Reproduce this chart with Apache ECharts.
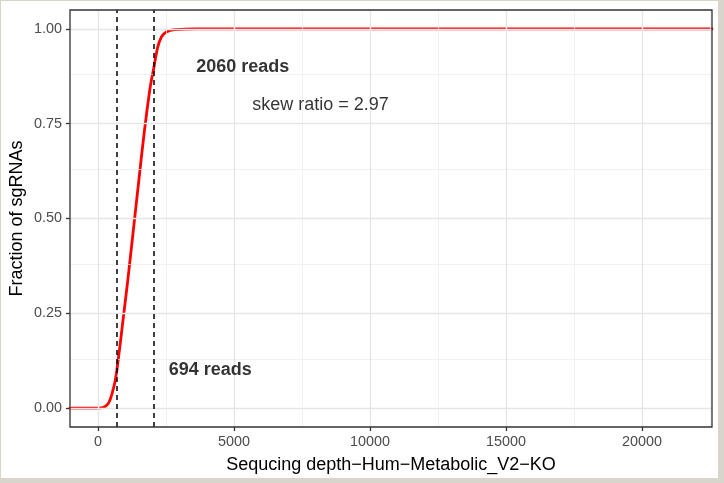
<!DOCTYPE html>
<html>
<head>
<meta charset="utf-8">
<script src="https://cdn.jsdelivr.net/npm/echarts@6/dist/echarts.min.js"></script>
<style>
  html, body { margin: 0; padding: 0; background: #d8d5cc; }
  #paper { position: absolute; left: 1px; top: 1px; width: 717px; height: 477px; background: #ffffff; }
  #main { position: absolute; left: 0; top: 0; width: 724px; height: 483px; }
</style>
</head>
<body>
<div id="paper"></div>
<div id="main"></div>
<script>
// ECDF of read counts (sequencing depth) -> fraction of sgRNAs
const depthReads  = [-1030, 60, 130, 195, 280, 380, 440, 500, 560, 625, 694, 800, 900, 1100, 1300, 1500, 1600, 1700, 1800, 1900, 1960, 2060, 2120, 2180, 2250, 2330, 2420, 2510, 2650, 2820, 3200, 3600, 22575];
const cumFraction = [0, 0, 0.0005, 0.002, 0.005, 0.012, 0.021, 0.034, 0.05, 0.069, 0.1, 0.16, 0.22, 0.34, 0.47, 0.60, 0.665, 0.727, 0.785, 0.838, 0.864, 0.90, 0.926, 0.948, 0.965, 0.979, 0.987, 0.992, 0.996, 0.998, 0.9995, 1, 1];

const xTicks = [0, 5000, 10000, 15000, 20000];
const xMinor = [2500, 7500, 12500, 17500, 22500];
const yTicks = [0, 0.25, 0.5, 0.75, 1];
const yMinor = [0.125, 0.375, 0.625, 0.875];

const cutoffReads = [694, 2060];
const annoX = [4130, 5320, 8180];
const annoY = [0.1, 0.9, 0.8];
const annoText = ['694 reads', '2060 reads', 'skew ratio = 2.97'];
const annoBold = [true, true, false];

const xTitle = 'Sequcing depth\u2212Hum\u2212Metabolic_V2\u2212KO';
const yTitle = 'Fraction of sgRNAs';

const FONT = '"Liberation Sans", Arial, Helvetica, sans-serif';

const chart = echarts.init(document.getElementById('main'), null, { renderer: 'canvas' });

const gridLines = [];
xMinor.forEach(v => gridLines.push({ xAxis: v, lineStyle: { color: '#ebebeb', width: 0.7, type: 'solid' } }));
yMinor.forEach(v => gridLines.push({ yAxis: v, lineStyle: { color: '#ebebeb', width: 0.7, type: 'solid' } }));
xTicks.forEach(v => gridLines.push({ xAxis: v, lineStyle: { color: '#e6e6e6', width: 1.4, type: 'solid' } }));
yTicks.forEach(v => gridLines.push({ yAxis: v, lineStyle: { color: '#e6e6e6', width: 1.4, type: 'solid' } }));

const curveData = depthReads.map((x, i) => [x, cumFraction[i]]);

chart.setOption({
  animation: false,
  backgroundColor: 'transparent',
  textStyle: { fontFamily: FONT },
  grid: {
    left: 70, top: 10, right: 12, bottom: 56,
    outerBoundsMode: 'none', containLabel: false,
    show: true, borderColor: '#333333', borderWidth: 1.3, backgroundColor: 'transparent', z: 10
  },
  xAxis: {
    type: 'value', min: -1030, max: 22575,
    name: xTitle, nameLocation: 'middle', nameGap: 29, nameMoveOverlap: false,
    nameTextStyle: { color: '#000000', fontSize: 18, fontFamily: FONT },
    axisLine: { show: false, onZero: false },
    axisTick: { show: true, inside: false, length: 4, customValues: xTicks, lineStyle: { color: '#333333', width: 1.3 } },
    axisLabel: { customValues: xTicks, margin: 8, color: '#4d4d4d', fontSize: 14.4, fontFamily: FONT,
                 formatter: v => String(v) },
    splitLine: { show: false }
  },
  yAxis: {
    type: 'value', min: -0.05, max: 1.05,
    name: yTitle, nameLocation: 'middle', nameGap: 44, nameRotate: 90, nameMoveOverlap: false,
    nameTextStyle: { color: '#000000', fontSize: 18, fontFamily: FONT },
    axisLine: { show: false, onZero: false },
    axisTick: { show: true, inside: false, length: 4, customValues: yTicks, lineStyle: { color: '#333333', width: 1.3 } },
    axisLabel: { customValues: yTicks, margin: 8, color: '#4d4d4d', fontSize: 14.4, fontFamily: FONT,
                 formatter: v => v.toFixed(2) },
    splitLine: { show: false }
  },
  series: [
    {
      type: 'line', z: 1, silent: true, symbol: 'none',
      data: [[depthReads[0], cumFraction[0]]],
      lineStyle: { opacity: 0 },
      markLine: { silent: true, symbol: ['none', 'none'], label: { show: false }, animation: false,
                  emphasis: { disabled: true }, data: gridLines }
    },
    {
      type: 'line', z: 3, silent: true, symbol: 'none', smooth: false,
      data: curveData,
      lineStyle: { color: '#ff0000', width: 2.8, join: 'round', cap: 'round' }
    },
    {
      type: 'line', z: 4, silent: true, symbol: 'none',
      data: [[depthReads[0], cumFraction[0]]],
      lineStyle: { opacity: 0 },
      markLine: { silent: true, symbol: ['none', 'none'], label: { show: false }, animation: false,
                  emphasis: { disabled: true },
                  lineStyle: { color: '#000000', width: 1.5, type: [5, 4] },
                  data: cutoffReads.map(v => ({ xAxis: v })) }
    },
    {
      type: 'scatter', z: 5, silent: true, symbolSize: 0,
      data: annoText.map((t, i) => ({
        value: [annoX[i], annoY[i]],
        label: {
          show: true, position: 'inside', formatter: t,
          color: '#000000', textBorderWidth: 0, fontSize: 18, fontFamily: FONT,
          fontWeight: annoBold[i] ? 'bold' : 'normal'
        }
      }))
    }
  ]
});
</script>
</body>
</html>
